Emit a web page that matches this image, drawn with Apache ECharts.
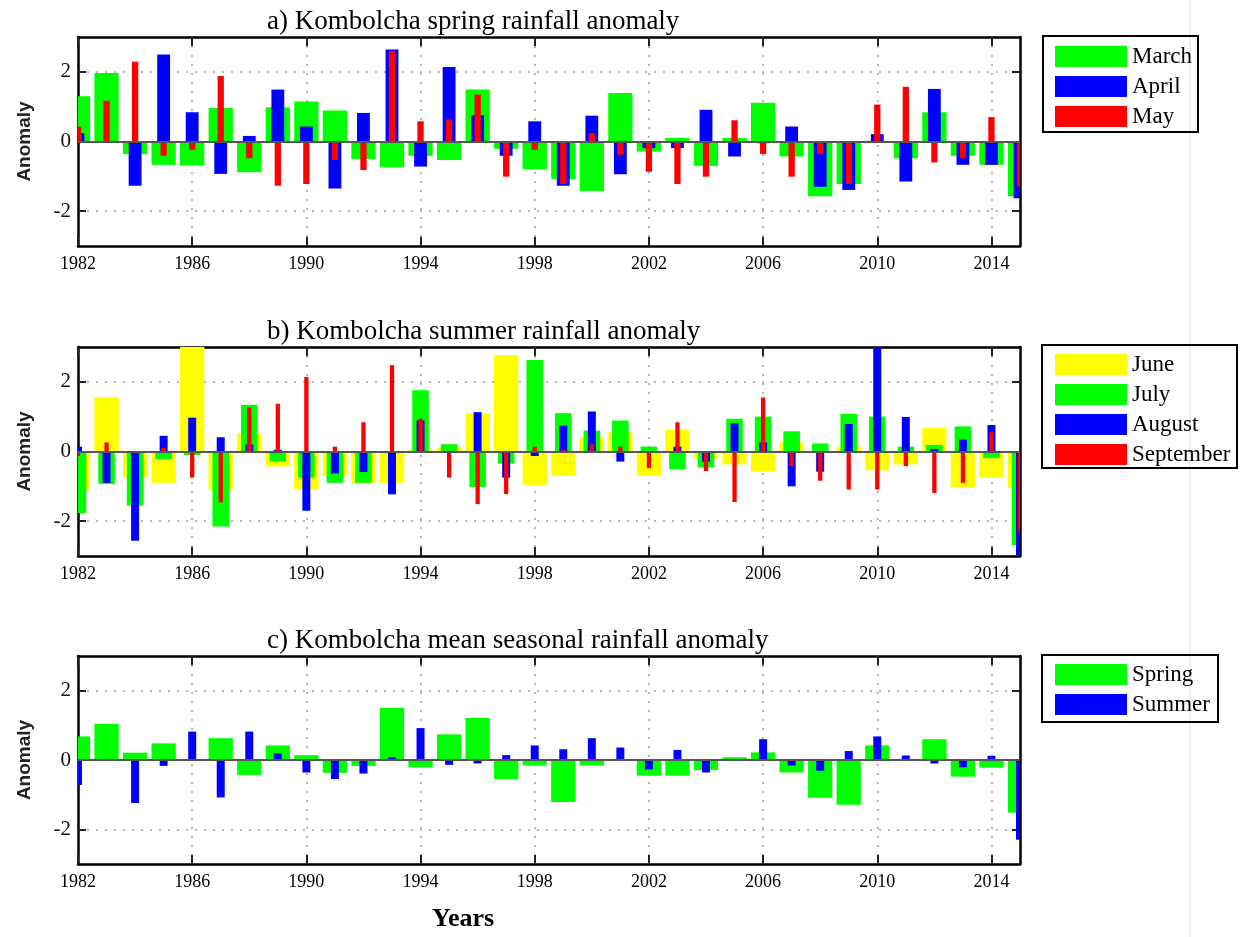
<!DOCTYPE html>
<html><head><meta charset="utf-8">
<script src="https://cdn.jsdelivr.net/npm/echarts@6/dist/echarts.min.js"></script>
<style>html,body{margin:0;padding:0;background:#fff}#c{width:1242px;height:937px}</style>
</head><body><div id="c"></div><script>
const years = [1982,1983,1984,1985,1986,1987,1988,1989,1990,1991,1992,1993,1994,1995,1996,1997,1998,1999,2000,2001,2002,2003,2004,2005,2006,2007,2008,2009,2010,2011,2012,2013,2014,2015];
const xTickYears = [1982,1986,1990,1994,1998,2002,2006,2010,2014];
const yTickValues = [-2,0,2];

// a) spring
const march = [1.30,1.97,-0.36,-0.67,-0.69,0.96,-0.88,0.98,1.15,0.89,-0.50,-0.74,-0.41,-0.53,1.49,-0.21,-0.80,-1.08,-1.42,1.39,-0.29,0.10,-0.70,0.10,1.11,-0.43,-1.57,-1.22,0.02,-0.48,0.84,-0.41,-0.67,-1.57];
const april = [0.24,-0.03,-1.27,2.50,0.84,-0.93,0.16,1.49,0.43,-1.35,0.82,2.64,-0.72,2.14,0.75,-0.41,0.58,-1.27,0.74,-0.94,-0.19,-0.19,0.91,-0.43,-0.05,0.43,-1.30,-1.39,0.21,-1.15,1.51,-0.67,-0.67,-1.63];
const may = [0.43,1.17,2.29,-0.41,-0.24,1.88,-0.48,-1.27,-1.22,-0.53,-0.82,2.60,0.58,0.63,1.35,-1.01,-0.24,-1.22,0.24,-0.38,-0.87,-1.22,-1.01,0.61,-0.36,-1.01,-0.36,-1.22,1.06,1.57,-0.60,-0.48,0.70,-1.30];

// b) summer
const june = [-1.09,1.55,-0.75,-0.90,3.30,-1.09,0.50,-0.43,-1.09,-0.70,-0.90,-0.90,0.05,0.10,1.10,2.77,-0.97,-0.70,0.41,0.55,-0.70,0.62,-0.20,-0.37,-0.58,0.26,-0.05,0.14,-0.54,-0.37,0.68,-1.02,-0.75,-1.04];
const july = [-1.77,-0.93,-1.55,-0.22,-0.10,-2.15,1.34,-0.29,-0.75,-0.90,-0.90,-0.05,1.76,0.21,-1.02,-0.35,2.63,1.10,0.60,0.89,0.14,-0.51,-0.46,0.94,1.00,0.58,0.23,1.08,1.00,0.14,0.19,0.72,-0.19,-2.69];
const august = [0.14,-0.90,-2.56,0.45,0.97,0.41,0.20,0.05,-1.70,-0.63,-0.59,-1.23,0.89,0.00,1.13,-0.75,-0.13,0.74,1.15,-0.29,0.00,0.14,-0.29,0.81,0.26,-1.00,-0.58,0.79,3.30,0.99,0.07,0.34,0.76,-3.30];
const september = [-0.13,0.26,-0.05,0.10,-0.75,-1.46,1.27,1.37,2.14,0.14,0.84,2.48,0.94,-0.75,-1.51,-1.22,0.14,0.05,0.21,0.14,-0.48,0.84,-0.56,-1.45,1.55,-0.42,-0.84,-1.09,-1.09,-0.42,-1.19,-0.90,0.55,-2.30];

// c) mean seasonal
const spring = [0.68,1.04,0.21,0.48,-0.03,0.63,-0.43,0.42,0.14,-0.37,-0.17,1.50,-0.21,0.74,1.21,-0.55,-0.16,-1.21,-0.16,0.03,-0.45,-0.45,-0.29,0.08,0.22,-0.36,-1.09,-1.29,0.42,0.02,0.60,-0.48,-0.22,-1.52];
const summer = [-0.72,-0.02,-1.24,-0.17,0.82,-1.08,0.82,0.19,-0.36,-0.55,-0.39,0.08,0.92,-0.14,-0.10,0.14,0.42,0.31,0.63,0.36,-0.27,0.29,-0.36,0.03,0.60,-0.16,-0.31,0.26,0.68,0.13,-0.10,-0.21,0.12,-2.30];

const titles = ['a) Kombolcha spring rainfall anomaly','b) Kombolcha summer rainfall anomaly','c) Kombolcha mean seasonal rainfall anomaly'];

const SERIF = "'Liberation Serif','Times New Roman',serif";
const SANS = "'Liberation Sans',Arial,sans-serif";
const GREEN='#00ff00', BLUE='#0000ff', RED='#ff0000', YELLOW='#ffff00';

const panels = [
  {top:37, height:209, titleTop:3, legendTop:45, box:[1043,36,155,96],
   series:[['March',march,GREEN,0.85],['April',april,BLUE,0.45],['May',may,RED,0.22]]},
  {top:347, height:209, titleTop:313, legendTop:353, box:[1042,345,195,123],
   series:[['June',june,YELLOW,0.85],['July',july,GREEN,0.58],['August',august,BLUE,0.28],['September',september,RED,0.15]]},
  {top:656, height:208, titleTop:622, legendTop:663, box:[1042,655,176,67],
   series:[['Spring',spring,GREEN,0.85],['Summer',summer,BLUE,0.28]]}
];

function makeRender(w){
  return function(params, api){
    const x = api.value(0), y = api.value(1);
    const p0 = api.coord([x - w/2, y]);
    const p1 = api.coord([x + w/2, 0]);
    const rect = {x:p0[0], y:Math.min(p0[1],p1[1]), width:p1[0]-p0[0], height:Math.abs(p1[1]-p0[1])};
    const cs = params.coordSys;
    const c = echarts.graphic.clipRectByRect(rect,{x:cs.x,y:cs.y,width:cs.width,height:cs.height});
    return c && {type:'rect', shape:c, style:{fill:api.visual('color')}};
  };
}

const grid=[], xAxis=[], yAxis=[], series=[], legend=[], title=[], graphic=[];
graphic.push({type:'line', shape:{x1:1190,y1:0,x2:1190,y2:937}, style:{stroke:'#ececf6',lineWidth:2}, z:-10});

panels.forEach((p,gi)=>{
  grid.push({left:78, width:942, top:p.top, height:p.height, containLabel:false});
  const dotted = {show:true, lineStyle:{color:'#a0a0a0', width:1.5, type:[2,7]}};
  const frame = {show:true, onZero:false, lineStyle:{color:'#000', width:2.5}};
  const tick = {show:true, inside:true, length:9, lineStyle:{color:'#222', width:2}};
  xAxis.push({type:'value', gridIndex:gi, min:1982, max:2015, position:'bottom',
    axisLine:frame, axisTick:Object.assign({customValues:xTickYears},tick),
    axisLabel:{customValues:xTickYears, formatter:v=>String(v), fontFamily:SERIF, fontSize:18, color:'#000', margin:9},
    splitLine:dotted});
  xAxis.push({type:'value', gridIndex:gi, min:1982, max:2015, position:'top',
    axisLine:frame, axisTick:Object.assign({customValues:xTickYears},tick),
    axisLabel:{show:false}, splitLine:{show:false}});
  yAxis.push({type:'value', gridIndex:gi, min:-3, max:3, position:'left',
    name:'Anomaly', nameLocation:'middle', nameGap:44, nameRotate:90,
    nameTextStyle:{fontFamily:SANS, fontWeight:'bold', fontSize:19, color:'#222'},
    axisLine:frame, axisTick:Object.assign({customValues:yTickValues},tick,{length:8}),
    axisLabel:{customValues:yTickValues, formatter:v=>String(v), fontFamily:SERIF, fontSize:21, color:'#111', margin:7},
    splitLine:dotted});
  yAxis.push({type:'value', gridIndex:gi, min:-3, max:3, position:'right',
    axisLine:frame, axisTick:Object.assign({customValues:yTickValues},tick,{length:8}),
    axisLabel:{show:false}, splitLine:{show:false}});
  p.series.forEach((s,si)=>{
    const ser = {type:'custom', name:s[0], xAxisIndex:gi*2, yAxisIndex:gi*2,
      itemStyle:{color:s[2]}, renderItem:makeRender(s[3]), silent:true, animation:false,
      encode:{x:0,y:1}, data:years.map((yr,i)=>[yr, s[1][i]]), z:2+si};
    if(si===0){
      ser.markLine = {silent:true, symbol:'none', animation:false, z:10,
        label:{show:false}, lineStyle:{color:'#555', width:2, type:'solid'}, data:[{yAxis:0}]};
    }
    series.push(ser);
  });
  legend.push({data:p.series.map(s=>s[0]), orient:'vertical', left:1055, top:p.legendTop,
    itemWidth:72, itemHeight:21, itemGap:7, icon:'rect', padding:0, selectedMode:false,
    textStyle:{fontFamily:SERIF, fontSize:23, color:'#000', lineHeight:21}});
  title.push({text:titles[gi], left:262, top:p.titleTop,
    textStyle:{fontFamily:SERIF, fontSize:27, fontWeight:'normal', color:'#000'}});
  graphic.push({type:'rect', shape:{x:p.box[0],y:p.box[1],width:p.box[2],height:p.box[3]},
    style:{fill:'none', stroke:'#000', lineWidth:2}, z:50});
});
graphic.push({type:'text', left:432, top:906, style:{text:'Years', fontFamily:SERIF, fontWeight:'bold', fontSize:26, fill:'#000'}});

const chart = echarts.init(document.getElementById('c'), null, {renderer:'canvas'});
chart.setOption({animation:false, backgroundColor:'#fff', grid, xAxis, yAxis, series, legend, title, graphic});
</script></body></html>
